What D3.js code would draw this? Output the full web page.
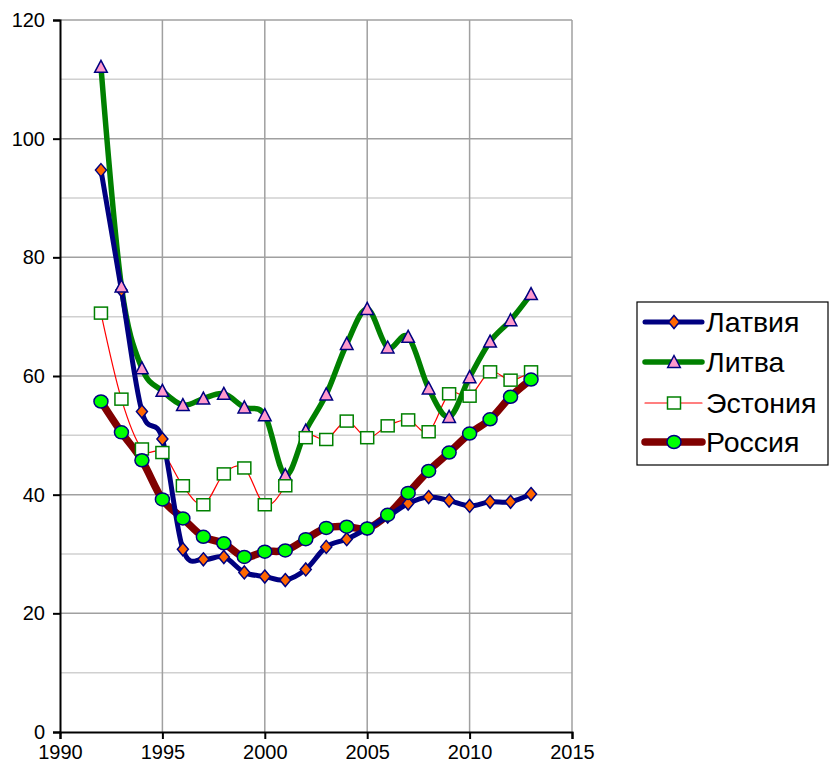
<!DOCTYPE html>
<html>
<head>
<meta charset="utf-8">
<script src="https://cdn.jsdelivr.net/npm/d3@7"></script>
<style>
  body { margin: 0; background: #fff; }
  svg { display: block; font-family: "Liberation Sans", Arial, sans-serif; }
</style>
</head>
<body>
<div id="chart"></div>
<script>
const years = [1992, 1993, 1994, 1995, 1996, 1997, 1998, 1999, 2000, 2001, 2002,
               2003, 2004, 2005, 2006, 2007, 2008, 2009, 2010, 2011, 2012, 2013];
const latvia = [94.7, 74.5, 54.0, 49.4, 30.8, 29.1, 29.5, 26.9, 26.2, 25.6, 27.4,
                31.2, 32.5, 34.3, 36.3, 38.5, 39.6, 39.0, 38.1, 38.8, 38.8, 40.1];
const lithuania = [112.1, 75.1, 61.3, 57.5, 55.1, 56.2, 57.0, 54.7, 53.4, 43.3, 50.8,
                   56.9, 65.4, 71.3, 64.8, 66.6, 57.9, 53.1, 59.8, 65.8, 69.4, 73.8];
const estonia = [70.6, 56.1, 47.7, 47.1, 41.5, 38.3, 43.5, 44.5, 38.3, 41.5, 49.6,
                 49.3, 52.4, 49.6, 51.6, 52.6, 50.6, 57.0, 56.6, 60.7, 59.3, 60.7];
const russia = [55.7, 50.5, 45.8, 39.2, 36.0, 32.9, 31.8, 29.5, 30.4, 30.6, 32.5,
                34.4, 34.6, 34.3, 36.6, 40.3, 44.0, 47.1, 50.3, 52.7, 56.5, 59.4];
const names = ["Латвия", "Литва", "Эстония", "Россия"];
const xTicks = [1990, 1995, 2000, 2005, 2010, 2015];
const yTicks = [0, 20, 40, 60, 80, 100, 120];
const yMinor = [10, 30, 50, 70, 90, 110];

const W = 830, H = 769;
const P = { left: 60, right: 572, top: 20, bottom: 732 };

const x = d3.scaleLinear().domain([1990, 2015]).range([P.left, P.right]);
const y = d3.scaleLinear().domain([0, 120]).range([P.bottom, P.top]);

const svg = d3.select("#chart").append("svg").attr("width", W).attr("height", H);

// gridlines
svg.append("g").selectAll("line").data(yMinor).join("line")
  .attr("x1", P.left).attr("x2", P.right).attr("y1", d => y(d)).attr("y2", d => y(d))
  .attr("stroke", "#d0d0d0").attr("stroke-width", 1.5);
svg.append("g").selectAll("line").data(yTicks.filter(d => d > 0)).join("line")
  .attr("x1", P.left).attr("x2", P.right).attr("y1", d => y(d)).attr("y2", d => y(d))
  .attr("stroke", "#a0a0a0").attr("stroke-width", 1.5);
svg.append("g").selectAll("line").data(xTicks.filter(d => d > 1990)).join("line")
  .attr("y1", P.top).attr("y2", P.bottom).attr("x1", d => x(d)).attr("x2", d => x(d))
  .attr("stroke", "#a0a0a0").attr("stroke-width", 1.5);

// axes
const yAxis = svg.append("g").attr("transform", `translate(${P.left},0)`)
  .call(d3.axisLeft(y).tickValues(yTicks).tickSize(7).tickPadding(8));
const xAxis = svg.append("g").attr("transform", `translate(0,${P.bottom})`)
  .call(d3.axisBottom(x).tickValues(xTicks).tickFormat(d3.format("d")).tickSize(7).tickPadding(6));
[yAxis, xAxis].forEach(a => {
  a.select(".domain").attr("stroke", "#000").attr("stroke-width", 2);
  a.selectAll(".tick line").attr("stroke", "#000").attr("stroke-width", 2);
  a.selectAll("text").attr("font-size", 20).attr("fill", "#000")
    .attr("font-family", "'Liberation Sans', Arial, sans-serif");
});

const series = [
  { name: names[0], values: latvia, color: "#000080", width: 5, marker: "diamond" },
  { name: names[1], values: lithuania, color: "#008000", width: 5.5, marker: "triangle" },
  { name: names[2], values: estonia, color: "#ff0000", width: 1.2, marker: "square" },
  { name: names[3], values: russia, color: "#800000", width: 7.5, marker: "circle" }
];

const line = d3.line().x(d => x(d[0])).y(d => y(d[1])).curve(d3.curveCatmullRom.alpha(0));

function drawMarker(sel, type) {
  if (type === "diamond") {
    sel.append("path").attr("d", "M0,-6.5L5.5,0L0,6.5L-5.5,0Z")
      .attr("fill", "#ff6600").attr("stroke", "#000080").attr("stroke-width", 1.5);
  } else if (type === "triangle") {
    sel.append("path").attr("d", "M0,-6.5L6.3,5.5L-6.3,5.5Z")
      .attr("fill", "#ff99cc").attr("stroke", "#000080").attr("stroke-width", 1.5);
  } else if (type === "square") {
    sel.append("rect").attr("x", -6.5).attr("y", -6).attr("width", 13).attr("height", 12)
      .attr("fill", "#fff").attr("stroke", "#008000").attr("stroke-width", 1.5);
  } else {
    sel.append("ellipse").attr("rx", 7).attr("ry", 6.5)
      .attr("fill", "#00ff00").attr("stroke", "#000080").attr("stroke-width", 1.5);
  }
}

// lines (drawn back to front), then markers
series.slice().reverse().forEach(s => {
  svg.append("path").datum(years.map((yr, i) => [yr, s.values[i]]))
    .attr("d", line).attr("fill", "none").attr("stroke", s.color)
    .attr("stroke-width", s.width).attr("stroke-linejoin", "round");
});
series.forEach(s => {
  svg.append("g").selectAll("g").data(years.map((yr, i) => [yr, s.values[i]])).join("g")
    .attr("transform", d => `translate(${x(d[0])},${y(d[1])})`)
    .each(function () { drawMarker(d3.select(this), s.marker); });
});

// legend
const lg = svg.append("g");
lg.append("rect").attr("x", 637).attr("y", 302).attr("width", 191).attr("height", 163)
  .attr("fill", "#fff").attr("stroke", "#000").attr("stroke-width", 1.2);
const legY = [322, 362, 403, 442];
series.forEach((s, i) => {
  const g = lg.append("g").attr("transform", `translate(0,${legY[i]})`);
  g.append("line").attr("x1", 645).attr("x2", 702).attr("y1", 0).attr("y2", 0)
    .attr("stroke", s.color).attr("stroke-width", s.width).attr("stroke-linecap", "round");
  drawMarker(g.append("g").attr("transform", "translate(674,0)"), s.marker);
  g.append("text").attr("x", 706).attr("y", 10).attr("font-size", 28.5).attr("fill", "#000")
    .text(s.name);
});
</script>
</body>
</html>
